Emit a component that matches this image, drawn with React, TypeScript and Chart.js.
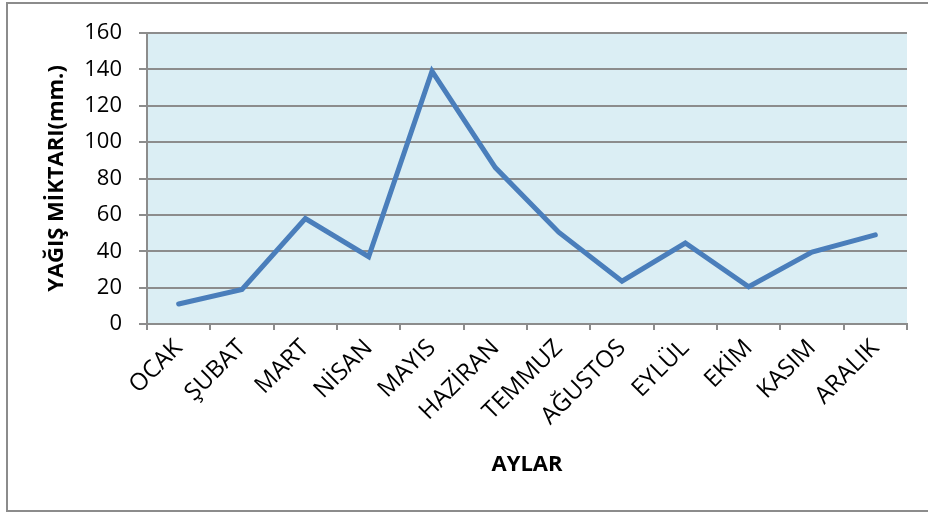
import React, { useEffect, useRef } from 'react';
import { Chart, registerables } from 'chart.js';

Chart.register(...registerables);

const months = ['OCAK', 'ŞUBAT', 'MART', 'NİSAN', 'MAYIS', 'HAZİRAN', 'TEMMUZ', 'AĞUSTOS', 'EYLÜL', 'EKİM', 'KASIM', 'ARALIK'];
const rainfall = [11, 19, 58, 37, 139, 86, 50.5, 23.5, 44.5, 20.5, 39.5, 49];
const yTitle = 'YAĞIŞ MİKTARI(mm.)';
const xTitle = 'AYLAR';
const yMin = 0;
const yMax = 160;
const yStep = 20;

const FONT = '"Open Sans", Lato, sans-serif';
const GRID = '#8c8c8c';

const plotBg = {
  id: 'plotBg',
  beforeDraw(chart: any) {
    const { ctx, chartArea } = chart;
    if (!chartArea) return;
    ctx.save();
    ctx.fillStyle = '#dbeef4';
    ctx.fillRect(chartArea.left, chartArea.top, chartArea.right - chartArea.left, chartArea.bottom - chartArea.top);
    ctx.restore();
  },
};

export default function App() {
  const ref = useRef<HTMLCanvasElement | null>(null);

  useEffect(() => {
    if (!ref.current) return;
    const chart = new Chart(ref.current, {
      type: 'line',
      data: {
        labels: months,
        datasets: [
          {
            data: rainfall,
            borderColor: '#4a7ebb',
            borderWidth: 5,
            pointRadius: 0,
            tension: 0,
            fill: false,
            borderCapStyle: 'round',
          },
        ],
      },
      options: {
        animation: false,
        responsive: false,
        layout: { padding: { left: 0, top: 33, right: 21, bottom: 0 } },
        plugins: {
          legend: { display: false },
          tooltip: { enabled: false },
        },
        scales: {
          x: {
            type: 'category',
            offset: true,
            grid: {
              offset: true,
              drawOnChartArea: false,
              drawTicks: true,
              tickLength: 6,
              color: GRID,
              lineWidth: 2,
            },
            border: { display: true, color: GRID, width: 2 },
            ticks: {
              color: '#000',
              font: { family: FONT, size: 24 },
              minRotation: 45,
              maxRotation: 45,
              autoSkip: false,
              padding: 4,
            },
            title: {
              display: true,
              text: xTitle,
              color: '#000',
              font: { family: FONT, size: 22, weight: 'bold' },
              padding: { top: 0, bottom: 34 },
            },
            afterFit(scale: any) {
              scale.height = 188;
            },
          },
          y: {
            min: yMin,
            max: yMax,
            ticks: {
              stepSize: yStep,
              color: '#000',
              font: { family: FONT, size: 22 },
              padding: 17,
            },
            grid: {
              color: GRID,
              lineWidth: 2,
              drawTicks: true,
              tickLength: 8,
            },
            border: { display: true, color: GRID, width: 2 },
            title: {
              display: true,
              text: yTitle,
              color: '#000',
              font: { family: FONT, size: 22, weight: 'bold' },
              padding: { top: 44, bottom: 0 },
            },
            afterFit(scale: any) {
              scale.width = 147;
            },
          },
        },
      },
      plugins: [plotBg],
    });
    return () => chart.destroy();
  }, []);

  return (
    <div style={{ position: 'fixed', left: 0, top: 0, width: 928, height: 512, overflow: 'hidden', background: '#fff' }}>
      <div
        style={{
          position: 'absolute',
          left: 6,
          top: 2,
          width: 930,
          height: 510,
          boxSizing: 'border-box',
          border: '2px solid #8c8c8c',
        }}
      />
      <canvas ref={ref} width={928} height={512} style={{ position: 'absolute', left: 0, top: 0 }} />
    </div>
  );
}
